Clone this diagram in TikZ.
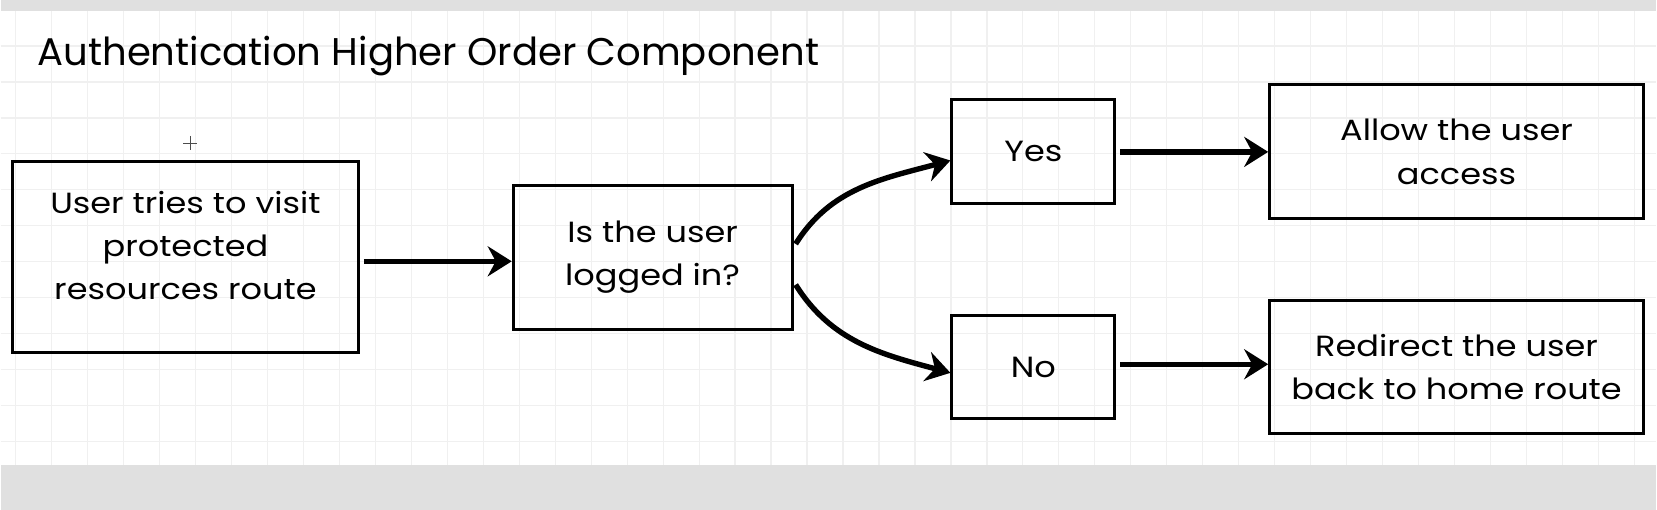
\documentclass[tikz,border=0pt]{standalone}
\usepackage{fontspec}
\setmainfont{Poppins}
\newfontfamily\flowfamily[FakeStretch=1.15]{Poppins}
\usetikzlibrary{arrows.meta,positioning}
\definecolor{panelgray}{RGB}{224,224,224}
\definecolor{gridgray}{RGB}{240,240,240}
\newcommand{\flowfont}{\flowfamily\fontsize{14.6}{21.7}\selectfont}
\newcommand{\headfont}{\fontsize{19.3}{22}\selectfont}

\begin{document}
\begin{tikzpicture}[x=0.5pt,y=-0.5pt,
        box/.style={draw,line width=1.5pt,align=center,inner sep=0pt,font=\flowfont},
        flow/.style={line width=2.7pt,-{Stealth[length=12pt,width=15pt,inset=4pt]},shorten <=2pt},
        gridline/.style={gridgray,line width=0.6pt}]

    \fill[panelgray] (0,0) rectangle (1657,510);
    \fill[white] (0,11) rectangle (1657,465);
    \foreach \gx in {15,51,...,1657}
        \draw[gridline] (\gx,11) -- (\gx,465);
    \foreach \gy in {46,82,...,460}
        \draw[gridline] (0,\gy) -- (1657,\gy);

    \node[anchor=base west,font=\headfont] (title) at (30,66) {Authentication Higher Order Component};
    \draw[line width=0.4pt,black!70] (183,143) -- (197,143) (190,136) -- (190,150);

    \node[box,minimum width=173pt,minimum height=95.5pt,text depth=12pt] (user) at (185,257.5) {User tries to visit\\protected\\resources route};
    \node[box,minimum width=139.5pt,minimum height=72pt] (check) [right=76pt of user] {Is the user\\logged in?};
    \node[box,minimum width=81.5pt,minimum height=52pt] (yes) at (1033.5,152) {Yes};
    \node[box,minimum width=81.5pt,minimum height=51.5pt] (no) [below=54.5pt of yes] {No};
    \node[box,minimum width=187pt,minimum height=67pt] (allow) [right=76pt of yes] {Allow the user\\access};
    \node[box,minimum width=187pt,minimum height=66.5pt] (redirect) [right=76pt of no] {Redirect the user\\back to home route};

    \draw[flow] ([yshift=-2pt]user.east) -- ([yshift=-2pt]check.west);
    \draw[flow] ([yshift=5pt]check.east) to[out=58,in=195] ([yshift=-4.3pt]yes.west);
    \draw[flow] ([yshift=-12pt]check.east) to[out=-58,in=165] ([yshift=-2.8pt]no.west);
    \draw[flow] (yes) -- (allow);
    \draw[flow] ([yshift=1.5pt]no.east) -- ([yshift=1.5pt]redirect.west);
\end{tikzpicture}
\end{document}
